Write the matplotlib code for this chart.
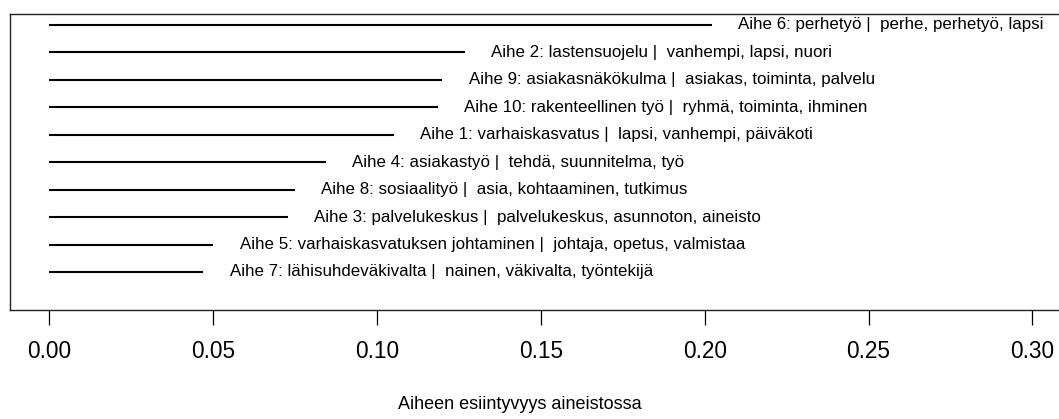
import matplotlib
matplotlib.use("Agg")
import matplotlib.pyplot as plt

plt.rcParams['font.family'] = ['Liberation Sans', 'DejaVu Sans']

# topic labels, top to bottom
topics = [
    "Aihe 6: perhetyö |  perhe, perhetyö, lapsi",
    "Aihe 2: lastensuojelu |  vanhempi, lapsi, nuori",
    "Aihe 9: asiakasnäkökulma |  asiakas, toiminta, palvelu",
    "Aihe 10: rakenteellinen työ |  ryhmä, toiminta, ihminen",
    "Aihe 1: varhaiskasvatus |  lapsi, vanhempi, päiväkoti",
    "Aihe 4: asiakastyö |  tehdä, suunnitelma, työ",
    "Aihe 8: sosiaalityö |  asia, kohtaaminen, tutkimus",
    "Aihe 3: palvelukeskus |  palvelukeskus, asunnoton, aineisto",
    "Aihe 5: varhaiskasvatuksen johtaminen |  johtaja, opetus, valmistaa",
    "Aihe 7: lähisuhdeväkivalta |  nainen, väkivalta, työntekijä",
]
# share of each topic in the material
shares = [0.2022, 0.1267, 0.1199, 0.1185, 0.1051, 0.0844, 0.0750, 0.0728, 0.0500, 0.0470]
xticks = [0.00, 0.05, 0.10, 0.15, 0.20, 0.25, 0.30]

W, H = 1059, 419
fig = plt.figure(figsize=(W / 100, H / 100), dpi=100)
# plot box in pixels: left 10, top 14, bottom 310, right runs off the image
ax = fig.add_axes([10 / W, 1 - 310 / H, 1 - 10 / W, (310 - 14) / H])

n = len(topics)
ypos = list(range(n, 0, -1))
for y, v, lab in zip(ypos, shares, topics):
    ax.plot([0, v], [y, y], color='black', lw=1.5, solid_capstyle='butt')
    ax.annotate(lab, xy=(v, y), xytext=(19, 0), textcoords='offset points',
                ha='left', va='center', fontsize=12.2, color='black')

ax.set_xlim(-0.0120, 0.3081)
ax.set_ylim(-0.385, 10.40)

for side in ['left', 'top', 'bottom']:
    ax.spines[side].set_linewidth(1.0)
    ax.spines[side].set_color('#222222')
ax.spines['right'].set_visible(False)

ax.set_yticks([])
ax.set_xticks(xticks)
ax.set_xticklabels([f"{t:.2f}" for t in xticks])
ax.tick_params(axis='x', direction='out', length=10.8, width=0.9,
               pad=11, labelsize=16.3, colors='black')

fig.text(520 / W, 1 - 404 / H, "Aiheen esiintyvyys aineistossa",
         ha='center', va='center', fontsize=13)

fig.savefig("out.png", dpi=100, facecolor='white')
